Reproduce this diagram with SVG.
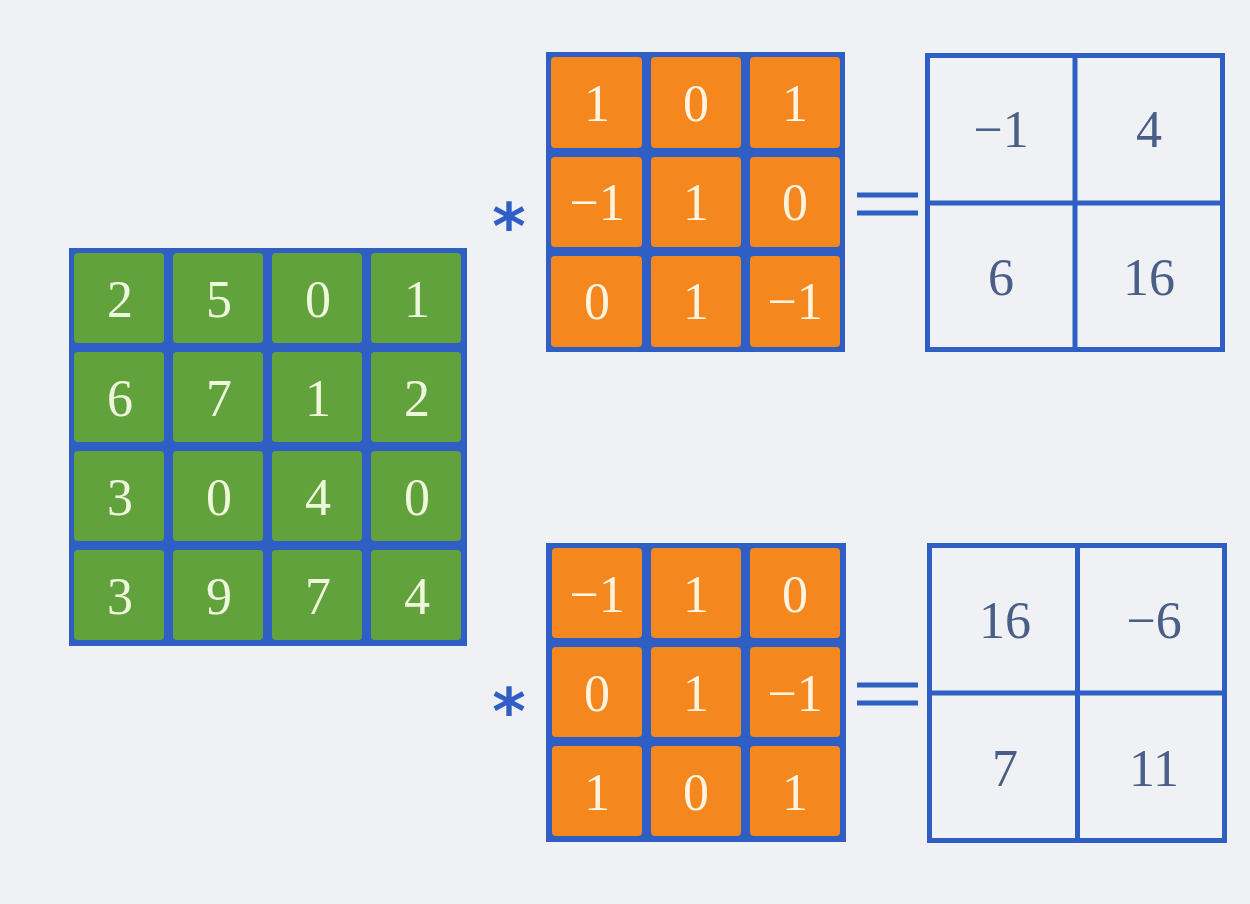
<svg xmlns="http://www.w3.org/2000/svg" width="1250" height="904" viewBox="0 0 1250 904">
  <style>
    .grid { fill: #2f5fc4; }
    .g { fill: #62a23c; }
    .o { fill: #f5871f; }
    .dot { fill: #2f5fc4; }
    .num { font-family: "Liberation Serif", "Times New Roman", serif; font-size: 52px; text-anchor: middle; }
    .in { fill: #eef7dc; }
    .kn { fill: #fff4e0; }
    .out { fill: #4a5f88; }
    .frame { fill: #eff1f4; stroke: #2f5fc4; stroke-width: 5; }
    .sep { stroke: #2f5fc4; stroke-width: 5; fill: none; }
    .eq { stroke: #2f5fc4; stroke-width: 5; }
    .op { font-family: "DejaVu Sans", sans-serif; font-size: 64px; fill: #2f5fc4; text-anchor: middle; font-weight: bold; }
  </style>
  <rect width="1250" height="904" fill="#eff1f4"/>

  <!-- 4x4 input matrix -->
  <g id="input">
    <rect class="grid" x="69" y="248" width="398" height="398"/>
    <g>
      <rect class="g" x="74" y="253" width="90" height="90" rx="4"/>
      <rect class="g" x="173" y="253" width="90" height="90" rx="4"/>
      <rect class="g" x="272" y="253" width="90" height="90" rx="4"/>
      <rect class="g" x="371" y="253" width="90" height="90" rx="4"/>
      <rect class="g" x="74" y="352" width="90" height="90" rx="4"/>
      <rect class="g" x="173" y="352" width="90" height="90" rx="4"/>
      <rect class="g" x="272" y="352" width="90" height="90" rx="4"/>
      <rect class="g" x="371" y="352" width="90" height="90" rx="4"/>
      <rect class="g" x="74" y="451" width="90" height="90" rx="4"/>
      <rect class="g" x="173" y="451" width="90" height="90" rx="4"/>
      <rect class="g" x="272" y="451" width="90" height="90" rx="4"/>
      <rect class="g" x="371" y="451" width="90" height="90" rx="4"/>
      <rect class="g" x="74" y="550" width="90" height="90" rx="4"/>
      <rect class="g" x="173" y="550" width="90" height="90" rx="4"/>
      <rect class="g" x="272" y="550" width="90" height="90" rx="4"/>
      <rect class="g" x="371" y="550" width="90" height="90" rx="4"/>
    </g>
    <g>
      <circle class="dot" cx="168.5" cy="347.5" r="5"/>
      <circle class="dot" cx="267.5" cy="347.5" r="5"/>
      <circle class="dot" cx="366.5" cy="347.5" r="5"/>
      <circle class="dot" cx="168.5" cy="446.5" r="5"/>
      <circle class="dot" cx="267.5" cy="446.5" r="5"/>
      <circle class="dot" cx="366.5" cy="446.5" r="5"/>
      <circle class="dot" cx="168.5" cy="545.5" r="5"/>
      <circle class="dot" cx="267.5" cy="545.5" r="5"/>
      <circle class="dot" cx="366.5" cy="545.5" r="5"/>
    </g>
    <g class="num in">
      <text x="120" y="317">2</text><text x="219" y="317">5</text><text x="318" y="317">0</text><text x="417" y="317">1</text>
      <text x="120" y="416">6</text><text x="219" y="416">7</text><text x="318" y="416">1</text><text x="417" y="416">2</text>
      <text x="120" y="515">3</text><text x="219" y="515">0</text><text x="318" y="515">4</text><text x="417" y="515">0</text>
      <text x="120" y="614">3</text><text x="219" y="614">9</text><text x="318" y="614">7</text><text x="417" y="614">4</text>
    </g>
  </g>

  <!-- first kernel -->
  <g id="kernel1">
    <text class="op" x="509" y="249">*</text>
    <rect class="grid" x="546" y="52" width="299" height="300"/>
    <rect class="o" x="551" y="57" width="91" height="91" rx="4"/>
    <rect class="o" x="651" y="57" width="90" height="91" rx="4"/>
    <rect class="o" x="750" y="57" width="90" height="91" rx="4"/>
    <rect class="o" x="551" y="157" width="91" height="90" rx="4"/>
    <rect class="o" x="651" y="157" width="90" height="90" rx="4"/>
    <rect class="o" x="750" y="157" width="90" height="90" rx="4"/>
    <rect class="o" x="551" y="256" width="91" height="91" rx="4"/>
    <rect class="o" x="651" y="256" width="90" height="91" rx="4"/>
    <rect class="o" x="750" y="256" width="90" height="91" rx="4"/>
    <circle class="dot" cx="646.5" cy="152" r="5"/>
    <circle class="dot" cx="745.5" cy="152" r="5"/>
    <circle class="dot" cx="646.5" cy="251.5" r="5"/>
    <circle class="dot" cx="745.5" cy="251.5" r="5"/>
    <g class="num kn">
      <text x="597" y="121">1</text><text x="696" y="121">0</text><text x="795" y="121">1</text>
      <text x="597" y="220">−1</text><text x="696" y="220">1</text><text x="795" y="220">0</text>
      <text x="597" y="319">0</text><text x="696" y="319">1</text><text x="795" y="319">−1</text>
    </g>
    <line class="eq" x1="857" y1="195" x2="918" y2="195"/>
    <line class="eq" x1="857" y1="213" x2="918" y2="213"/>
  </g>

  <!-- first output -->
  <g id="output1">
    <rect class="frame" x="927.5" y="55.5" width="295" height="294"/>
    <path class="sep" d="M1075 55.5V349.5M927.5 203H1222.5"/>
    <g class="num out">
      <text x="1001" y="147">−1</text><text x="1149" y="147">4</text>
      <text x="1001" y="295">6</text><text x="1149" y="295">16</text>
    </g>
  </g>

  <!-- second kernel -->
  <g id="kernel2">
    <text class="op" x="509" y="734">*</text>
    <rect class="grid" x="546" y="543" width="300" height="299"/>
    <rect class="o" x="552" y="548" width="90" height="90" rx="4"/>
    <rect class="o" x="651" y="548" width="90" height="90" rx="4"/>
    <rect class="o" x="750" y="548" width="90" height="90" rx="4"/>
    <rect class="o" x="552" y="647" width="90" height="90" rx="4"/>
    <rect class="o" x="651" y="647" width="90" height="90" rx="4"/>
    <rect class="o" x="750" y="647" width="90" height="90" rx="4"/>
    <rect class="o" x="552" y="746" width="90" height="90" rx="4"/>
    <rect class="o" x="651" y="746" width="90" height="90" rx="4"/>
    <rect class="o" x="750" y="746" width="90" height="90" rx="4"/>
    <circle class="dot" cx="646.5" cy="642.5" r="5"/>
    <circle class="dot" cx="745.5" cy="642.5" r="5"/>
    <circle class="dot" cx="646.5" cy="741.5" r="5"/>
    <circle class="dot" cx="745.5" cy="741.5" r="5"/>
    <g class="num kn">
      <text x="597" y="612">−1</text><text x="696" y="612">1</text><text x="795" y="612">0</text>
      <text x="597" y="711">0</text><text x="696" y="711">1</text><text x="795" y="711">−1</text>
      <text x="597" y="810">1</text><text x="696" y="810">0</text><text x="795" y="810">1</text>
    </g>
    <line class="eq" x1="857" y1="685" x2="918" y2="685"/>
    <line class="eq" x1="857" y1="703" x2="918" y2="703"/>
  </g>

  <!-- second output -->
  <g id="output2">
    <rect class="frame" x="929.5" y="545.5" width="295" height="295"/>
    <path class="sep" d="M1077.5 545.5V840.5M929.5 693H1224.5"/>
    <g class="num out">
      <text x="1005" y="638">16</text><text x="1154" y="638">−6</text>
      <text x="1005" y="786">7</text><text x="1154" y="786">11</text>
    </g>
  </g>
</svg>
